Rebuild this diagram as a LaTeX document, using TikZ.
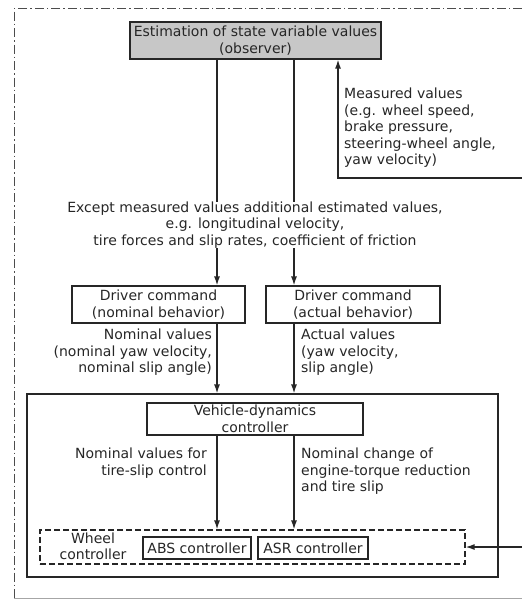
\documentclass[tikz,border=0pt]{standalone}
\usepackage{fontspec}
\setmainfont{DejaVu Sans}
\usepackage{tikz}
\usetikzlibrary{positioning}
\usetikzlibrary{arrows.meta}
\tikzstyle{box} = [rectangle, draw, line width=1.2pt, black!85, text=black!85, align=center, inner sep=1pt]
\tikzstyle{greybox} = [box, fill=black!22]
\tikzstyle{note} = [inner sep=0pt, text=black!85]
\tikzstyle{line} = [draw, line width=1.3pt, black!85]
\tikzstyle{arrowline} = [line, -{Latex[length=9pt,width=6pt]}]
\tikzstyle{frame} = [draw, black!70, line width=0.8pt, dash pattern=on 9pt off 3pt on 1.5pt off 3pt]

\begin{document}
\begin{tikzpicture}[x=1pt,y=-1pt,font=\fontsize{14}{16.5}\selectfont]
            \useasboundingbox (0,0) rectangle (522,600);
            \path[frame] (522,8) -- (14,8) -- (14,600);
            \draw[black!35, line width=0.6pt] (14,598.5) -- (522,598.5);
            % column positions of the two signal paths
            \coordinate (xl) at (217,0);
            \coordinate (xr) at (294,0);
            \node[greybox, minimum width=251, minimum height=37](obs) at (255.5,40.5){Estimation of state variable values\\(observer)};
            \node[note, align=center](est) at (255,225){Except measured values additional estimated values,\\e.g. longitudinal velocity,\\tire forces and slip rates, coefficient of friction};
            \node[box, minimum width=173, minimum height=37](nom) at (158.5,304.5){Driver command\\(nominal behavior)};
            \node[box, minimum width=174, minimum height=37](act) at (353,304.5){Driver command\\(actual behavior)};
            \node[note, align=right, anchor=north east](nomval) at (212,329){Nominal values\\(nominal yaw velocity,\\nominal slip angle)};
            \node[note, align=left, anchor=north west](actval) at (301,329){Actual values\\(yaw velocity,\\slip angle)};
            \node[box, minimum width=471, minimum height=183](ctrl) at (262.5,485.5){};
            \node[box, minimum width=216, minimum height=32](vdc) at (255,419){Vehicle-dynamics\\controller};
            \node[note, align=right, anchor=north east](slipval) at (207,448){Nominal values for\\tire-slip control};
            \node[note, align=left, anchor=north west](torque) at (301,448){Nominal change of\\engine-torque reduction\\and tire slip};
            \node[box, dashed, dash pattern=on 6pt off 3pt, minimum width=425, minimum height=34](wheel) at (252.5,547){};
            \node[note, align=center](wheeltxt) at (93,546.5){Wheel\\controller};
            \node[box, minimum width=108, minimum height=22](abs) at (197,548){ABS controller};
            \node[box, minimum width=110, minimum height=22](asr) at (313,548){ASR controller};
            \node[note, align=left, anchor=north west](meastxt) at (344,88){Measured values\\(e.g. wheel speed,\\brake pressure,\\steering-wheel angle,\\yaw velocity)};
            \coordinate (measin) at (522,178);
            \coordinate (corner) at (338,178);
            \path[line] (obs.south -| xl) -- (est.north -| xl);
            \path[line] (obs.south -| xr) -- (est.north -| xr);
            \path[arrowline] (est.south -| xl) -- (nom.north -| xl);
            \path[arrowline] (est.south -| xr) -- (act.north -| xr);
            \path[arrowline] (nom.south -| xl) -- (ctrl.north -| xl);
            \path[arrowline] (act.south -| xr) -- (ctrl.north -| xr);
            \path[arrowline] (vdc.south -| xl) -- (wheel.north -| xl);
            \path[arrowline] (vdc.south -| xr) -- (wheel.north -| xr);
            \path[arrowline] (measin) -- (corner) -- (obs.south -| corner);
            \path[arrowline] (measin |- wheel.east) -- (wheel.east);
        \end{tikzpicture}
\end{document}
